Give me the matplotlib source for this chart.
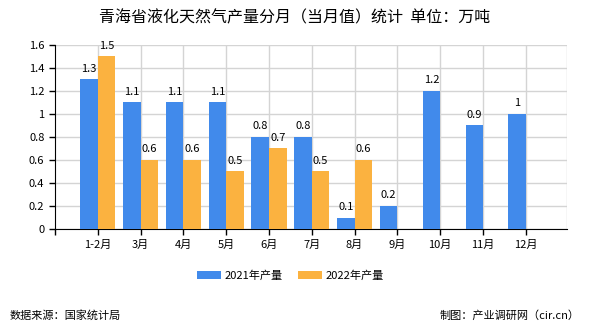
import matplotlib.pyplot as plt
import numpy as np

plt.rcParams['font.family'] = ['Noto Sans CJK SC', 'DejaVu Sans']

months = ['1-2月', '3月', '4月', '5月', '6月', '7月', '8月', '9月', '10月', '11月', '12月']
output_2021 = [1.3, 1.1, 1.1, 1.1, 0.8, 0.8, 0.1, 0.2, 1.2, 0.9, 1.0]
output_2022 = [1.5, 0.6, 0.6, 0.5, 0.7, 0.5, 0.6]

c_2021 = '#418AEB'
c_2022 = '#FBB240'

fig = plt.figure(figsize=(5.9, 3.3), dpi=100)
ax = fig.add_axes([0.093, 0.306, 0.868, 0.558])

x = np.arange(len(months))
w = 0.41
b1 = ax.bar(x - w / 2, output_2021, w, color=c_2021, label='2021年产量', zorder=3)
x2 = x[:len(output_2022)]
b2 = ax.bar(x2 + w / 2, output_2022, w, color=c_2022, label='2022年产量', zorder=3)

for xi, v in zip(x, output_2021):
    ax.text(xi - w / 2, v + 0.05, f'{v:g}', ha='center', va='bottom', fontsize=8)
for xi, v in zip(x2, output_2022):
    ax.text(xi + w / 2, v + 0.05, f'{v:g}', ha='center', va='bottom', fontsize=8)

ax.set_xlim(-1, 10.96)
ax.set_ylim(0, 1.6)
ax.set_yticks(np.arange(0, 1.61, 0.2))
ax.set_yticklabels(['0', '0.2', '0.4', '0.6', '0.8', '1', '1.2', '1.4', '1.6'])
ax.set_xticks(x)
ax.set_xticklabels(months)
ax.tick_params(axis='both', labelsize=8, length=4, width=1, color='black')
ax.set_xticks(list(np.arange(-1, 11, 1)), minor=True)
ax.tick_params(axis='x', which='minor', length=4, width=1)

ax.grid(True, color='#d4d4d4', linewidth=1, zorder=0)
ax.set_axisbelow(True)
for side in ['top', 'right']:
    ax.spines[side].set_visible(False)
ax.spines['left'].set_color('black')
ax.spines['bottom'].set_color('black')
ax.axvline(10.96, color='#d4d4d4', linewidth=1, zorder=0)

fig.text(0.5, 0.945, '青海省液化天然气产量分月（当月值）统计  单位：万吨',
         ha='center', va='center', fontsize=11.5)

fig.legend(handles=[b1, b2], loc='center', bbox_to_anchor=(0.492, 0.165), ncol=2,
           frameon=False, fontsize=8, handlelength=2.2, handleheight=0.8,
           handletextpad=0.3, columnspacing=1.4)

fig.text(0.017, 0.045, '数据来源：国家统计局', fontsize=8, va='center')
fig.text(0.983, 0.045, '制图：产业调研网（cir.cn）', fontsize=8, va='center', ha='right')

plt.savefig('out.png', dpi=100)
plt.close()
